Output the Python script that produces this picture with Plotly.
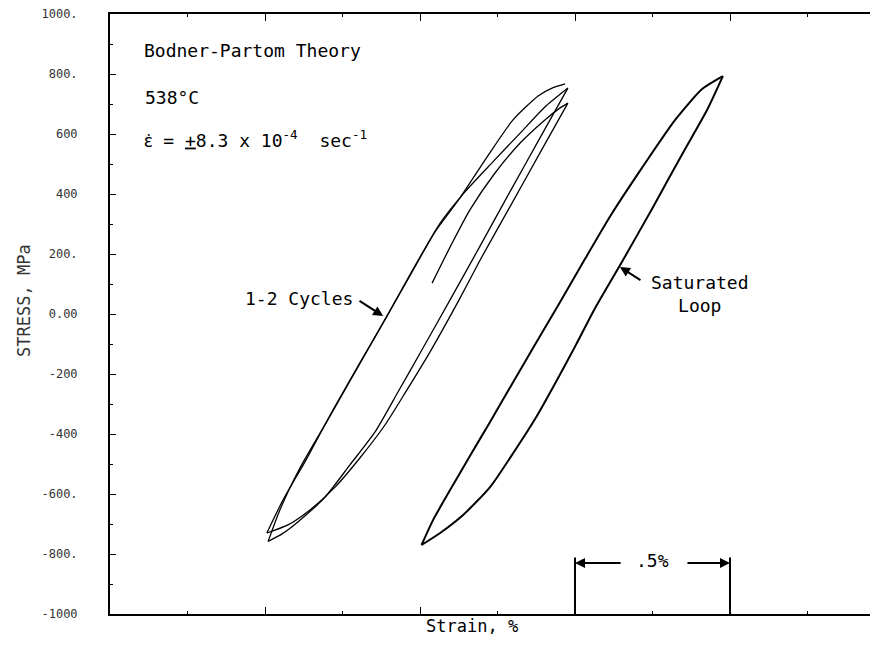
"""Bodner-Partom hysteresis loops at 538 C: first cycles vs saturated loop."""

import plotly.graph_objects as go

# strain in %, measured from the left frame edge; stress in MPa
first_load_strain = [1.039, 1.097, 1.161, 1.242, 1.323, 1.403, 1.452, 1.477]
first_load_stress = [103, 223, 347, 470, 570, 647, 687, 703]

unload1_strain = [1.477, 1.387, 1.290, 1.194, 1.126, 1.032, 0.952, 0.887, 0.806, 0.726, 0.645, 0.574, 0.506]
unload1_stress = [703, 537, 357, 180, 47, -127, -263, -370, -480, -577, -653, -703, -730]

reload1_strain = [0.506, 0.558, 0.632, 0.719, 0.806, 0.890, 0.971, 1.065, 1.145, 1.235, 1.323, 1.403, 1.477]
reload1_stress = [-730, -620, -487, -320, -163, -13, 137, 303, 407, 507, 603, 690, 753]

unload2_strain = [1.477, 1.387, 1.290, 1.194, 1.097, 1.006, 0.929, 0.855, 0.774, 0.694, 0.606, 0.555, 0.510]
unload2_stress = [753, 587, 407, 227, 47, -120, -260, -393, -503, -610, -693, -733, -758]

reload2_strain = [0.510, 0.548, 0.613, 0.706, 0.794, 0.877, 0.958, 1.048, 1.129, 1.216, 1.300, 1.381, 1.426, 1.468]
reload2_stress = [-758, -653, -513, -347, -187, -37, 110, 273, 387, 523, 647, 727, 753, 767]

sat_load_strain = [1.005, 1.042, 1.097, 1.161, 1.226, 1.297, 1.374, 1.452, 1.532, 1.616, 1.716, 1.823, 1.910, 1.977]
sat_load_stress = [-770, -687, -587, -473, -360, -233, -97, 40, 183, 330, 487, 647, 750, 793]

sat_unload_strain = [1.977, 1.926, 1.848, 1.752, 1.655, 1.565, 1.503, 1.442, 1.377, 1.303, 1.226, 1.139, 1.065, 1.005]
sat_unload_stress = [793, 680, 537, 357, 180, 20, -103, -220, -340, -460, -577, -670, -730, -770]

stress_ticks = [-1000, -800, -600, -400, -200, 0, 200, 400, 600, 800, 1000]
stress_tick_text = ["-1000", "-800.", "-600.", "-400", "-200", "0.00", "200.", "400", "600", "800.", "1000."]

scale_bar_strain = [1.5, 2.0]
scale_bar_label = ".5%"

FONT = "DejaVu Sans Mono"
INK = "#000000"

fig = go.Figure()


def add_branch(strain, stress, width):
    fig.add_trace(
        go.Scatter(
            x=strain,
            y=stress,
            mode="lines",
            line=dict(color=INK, width=width, shape="spline", smoothing=0.6),
            showlegend=False,
            hoverinfo="skip",
        )
    )


for xs, ys in [
    (first_load_strain, first_load_stress),
    (unload1_strain, unload1_stress),
    (reload1_strain, reload1_stress),
    (unload2_strain, unload2_stress),
    (reload2_strain, reload2_stress),
]:
    add_branch(xs, ys, 1.3)

add_branch(sat_load_strain, sat_load_stress, 2)
add_branch(sat_unload_strain, sat_unload_stress, 2)

# empty trace so the right-hand tick axis gets drawn
fig.add_trace(go.Scatter(x=[None], y=[None], yaxis="y2", showlegend=False, hoverinfo="skip"))

# .5% scale bar
bar_lo, bar_hi = scale_bar_strain
for xv in scale_bar_strain:
    fig.add_shape(type="line", x0=xv, x1=xv, y0=-812, y1=-1000,
                  line=dict(color=INK, width=2))

eps_dot = "<span style='font-family:Noto Sans'>\u03b5\u0307</span>"
annotations = [
    dict(x=0.103, y=877, text="Bodner-Partom Theory"),
    dict(x=0.106, y=723, text="538°C"),
    dict(x=0.103, y=583,
         text=eps_dot + " = <u>+</u>8.3 x 10<sup>-4</sup>  sec<sup>-1</sup>"),
    dict(x=0.79, y=53, text="1-2 Cycles", xanchor="right"),
    dict(x=1.903, y=67, text="Saturated<br>Loop", xanchor="center", align="center"),
    dict(x=(bar_lo + bar_hi) / 2, y=-820, text=scale_bar_label, xanchor="center"),
]
for a in annotations:
    a.setdefault("xanchor", "left")
    fig.add_annotation(showarrow=False, yanchor="middle",
                       font=dict(family=FONT, size=18, color=INK), **a)

arrows = [
    (0.881, -7, 0.800, 47),      # 1-2 Cycles
    (1.645, 157, 1.716, 110),    # Saturated Loop
    (bar_lo, -830, 1.652, -830),  # scale bar, left half
    (bar_hi, -830, 1.858, -830),  # scale bar, right half
]
for hx, hy, tx, ty in arrows:
    fig.add_annotation(x=hx, y=hy, ax=tx, ay=ty, axref="x", ayref="y", text="",
                       showarrow=True, arrowhead=2, arrowsize=1, arrowwidth=2,
                       arrowcolor=INK)

# axis titles placed by hand, as on the original sheet
fig.add_annotation(x=1.168, y=-0.04, xref="x", yref="paper", text="Strain, %",
                   showarrow=False, font=dict(family=FONT, size=17, color=INK))
fig.add_annotation(x=-0.112, y=47, xref="paper", yref="y", text="STRESS, MPa",
                   textangle=-90, showarrow=False, xanchor="center",
                   font=dict(family=FONT, size=17, color="#333333"))

# the page body adds an 8px margin, so the figure is 8px smaller each way
fig.update_layout(
    width=870,
    height=644,
    margin=dict(l=102, r=0, t=6, b=38),
    paper_bgcolor="white",
    plot_bgcolor="white",
    xaxis=dict(
        range=[0, 768 / 310],
        showline=True, linecolor=INK, linewidth=1.5, mirror="ticks",
        ticks="inside", ticklen=7, tickwidth=1.2, tickcolor=INK,
        tick0=0, dtick=0.5, showticklabels=False,
        minor=dict(ticks="inside", ticklen=3, tick0=0, dtick=0.25, tickcolor=INK),
        showgrid=False, zeroline=False,
    ),
    yaxis=dict(
        range=[-1000, 1000],
        showline=True, linecolor=INK, linewidth=2,
        ticks="inside", ticklen=6, tickwidth=1.2, tickcolor=INK,
        tickvals=stress_ticks, ticktext=stress_tick_text,
        tickfont=dict(family=FONT, size=12, color="#333333"),
        ticklabelstandoff=28, ticklabeloverflow="allow",
        minor=dict(ticks="inside", ticklen=3, dtick=100, tickcolor=INK),
        showgrid=False, zeroline=False,
    ),
    yaxis2=dict(
        overlaying="y", side="right", range=[-1000, 1000],
        showline=False, ticks="inside", ticklen=6, tickwidth=1.2, tickcolor=INK,
        tick0=0, dtick=200, showticklabels=False,
        minor=dict(ticks="inside", ticklen=3, dtick=100, tickcolor=INK),
        showgrid=False, zeroline=False,
    ),
)

fig.write_html("out.html")
